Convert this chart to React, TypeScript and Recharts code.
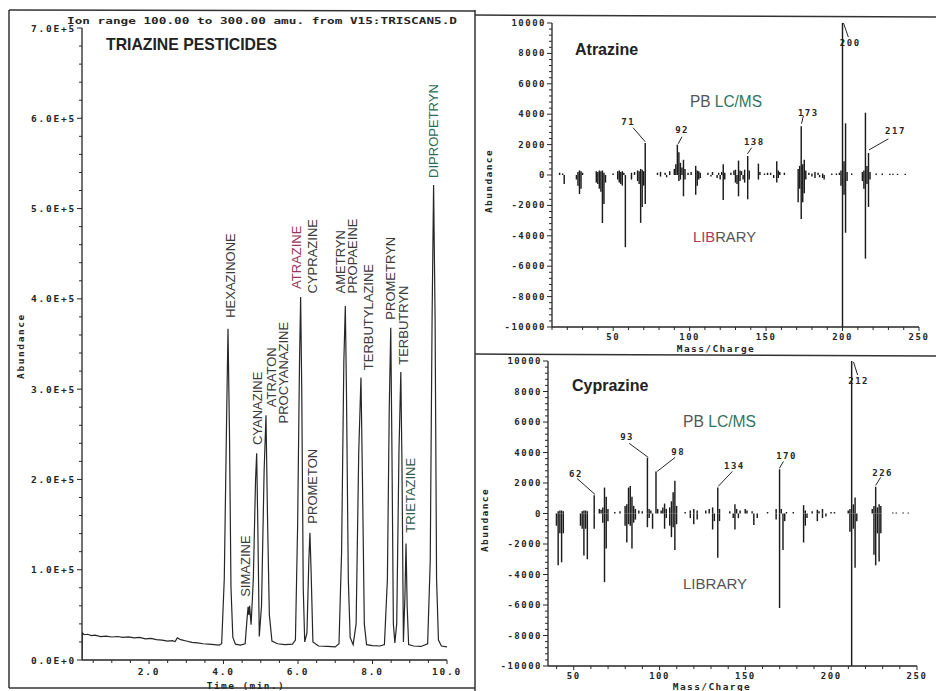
import React from "react";
import {
  LineChart,
  Line,
  ComposedChart,
  Bar,
  XAxis,
  YAxis,
  ReferenceDot,
  ReferenceLine,
} from "recharts";

const INK = "#262626";
const MONO = '"DejaVu Sans Mono", "Liberation Mono", monospace';
const SANS = '"Liberation Sans", Arial, Helvetica, sans-serif';

// ---- total ion chromatogram: time (min) / abundance ----
const TIC_TIME = [
  0.2, 0.21, 0.26, 0.35, 0.45, 0.55, 0.7, 0.85, 1.0, 1.15, 1.3, 1.45, 1.6, 1.75, 1.9, 2.05, 2.2, 2.35,
  2.5, 2.62, 2.7, 2.76, 2.85, 3.0, 3.15, 3.3, 3.45, 3.6, 3.75, 3.88, 3.95, 4.02, 4.08, 4.12, 4.16, 4.2,
  4.25, 4.32, 4.45, 4.58, 4.63, 4.66, 4.68, 4.7, 4.74, 4.8, 4.86, 4.89, 4.92, 4.96, 5.02, 5.09, 5.14,
  5.18, 5.23, 5.3, 5.45, 5.65, 5.85, 5.93, 5.99, 6.04, 6.07, 6.1, 6.14, 6.18, 6.24, 6.29, 6.32, 6.35,
  6.4, 6.55, 6.8, 7.0, 7.1, 7.17, 7.23, 7.27, 7.3, 7.35, 7.4, 7.48, 7.56, 7.63, 7.69, 7.73, 7.78, 7.84,
  8.0, 8.2, 8.32, 8.4, 8.45, 8.49, 8.52, 8.56, 8.6, 8.65, 8.71, 8.76, 8.79, 8.83, 8.87, 8.9, 8.93, 8.97,
  9.1, 9.3, 9.48, 9.55, 9.6, 9.64, 9.68, 9.72, 9.77, 9.85, 10.0,
];
const TIC_ABUND = [
  0, 30000, 28000, 28500, 27000, 27500, 26000, 26500, 25500, 26000, 25000, 25500, 24500, 25000, 23500,
  24000, 22500, 22000, 21000, 21500, 20500, 24500, 22500, 21000, 19500, 19000, 18000, 17500, 17000,
  16500, 18000, 90000, 260000, 367000, 250000, 80000, 25000, 17500, 16500, 18000, 45000, 59000, 50000,
  60000, 39000, 90000, 200000, 229000, 150000, 26000, 60000, 210000, 271000, 160000, 50000, 21000,
  18000, 17000, 17500, 22000, 150000, 330000, 402000, 300000, 80000, 20000, 30000, 110000, 141000,
  100000, 20000, 15500, 15000, 14500, 18000, 120000, 330000, 392000, 300000, 90000, 25000, 17000, 40000,
  230000, 313000, 200000, 40000, 17000, 16000, 15500, 17000, 90000, 280000, 368000, 240000, 40000,
  19000, 40000, 230000, 319000, 220000, 20000, 70000, 129000, 60000, 17000, 15500, 15000, 18000, 110000,
  380000, 526000, 380000, 90000, 22000, 15500, 14500,
];

const PEAK_NAMES = [
  "HEXAZINONE", "SIMAZINE", "CYANAZINE", "ATRATON", "PROCYANAZINE", "ATRAZINE", "CYPRAZINE",
  "PROMETON", "AMETRYN", "PROPAEINE", "TERBUTYLAZINE", "PROMETRYN", "TERBUTRYN", "TRIETAZINE",
  "DIPROPETRYN",
];
// where each rotated name starts (bottom end of the text)
const PEAK_LABEL_TIME = [4.2, 4.58, 4.9, 5.28, 5.62, 5.97, 6.4, 6.38, 7.13, 7.45, 7.88, 8.47, 8.82, 9.03, 9.65];
const PEAK_LABEL_ABUND = [
  379000, 70000, 238000, 280000, 262000, 411000, 406000, 151000, 406000, 406000, 321000, 377000,
  327000, 141000, 534000,
];
const LABEL_TINT: Record<string, string> = {
  ATRAZINE: "#9a3458",
  DIPROPETRYN: "#2f6a55",
  TRIETAZINE: "#2f5a4c",
};

const TIME_MAJOR = [2, 4, 6, 8, 10];
const ABUND_MAJOR = [0, 100000, 200000, 300000, 400000, 500000, 600000, 700000];

// ---- mass spectra: m/z and abundance (PB LC/MS up, library down) ----
const ATR_PB_MZ = [
  15, 17, 27, 28, 29, 30, 39, 40, 41, 42, 43, 44, 50, 53, 54, 55, 56, 57, 62, 64, 66, 67, 68, 69, 70, 71,
  79, 81, 84, 87, 90, 91, 92, 93, 94, 95, 96, 97, 99, 101, 104, 105, 106, 107, 112, 115, 119, 121, 122,
  123, 127, 129, 130, 132, 133, 134, 136, 138, 139, 145, 146, 149, 151, 153, 157, 158, 159, 162, 171,
  172, 173, 174, 175, 176, 178, 180, 182, 184, 187, 193, 196, 198, 199, 200, 201, 202, 203, 206, 213,
  214, 215, 216, 217, 218, 222, 226, 231, 233, 236, 241,
];
const ATR_PB = [
  150, 100, 200, 300, 250, 150, 250, 200, 300, 250, 300, 150, 100, 250, 300, 200, 250, 150, 150, 200,
  300, 250, 400, 350, 250, 2100, 150, 200, 150, 250, 400, 700, 2000, 1500, 800, 500, 1000, 400, 150,
  200, 600, 300, 250, 150, 150, 200, 150, 200, 700, 150, 150, 300, 350, 950, 300, 250, 350, 1250, 300,
  750, 200, 100, 150, 150, 900, 300, 200, 150, 400, 600, 3200, 700, 1000, 300, 150, 100, 200, 150, 100,
  100, 100, 150, 300, 10000, 900, 3400, 200, 100, 200, 300, 4100, 600, 1450, 200, 100, 100, 80, 80, 80,
  80,
];
const ATR_LIB_MZ = [
  18, 26, 27, 28, 29, 39, 40, 41, 42, 43, 44, 45, 53, 54, 55, 56, 58, 62, 66, 67, 68, 69, 70, 71, 81,
  85, 93, 94, 96, 97, 104, 105, 106, 107, 114, 118, 120, 122, 123, 130, 131, 132, 133, 135, 136, 138,
  139, 145, 155, 157, 158, 171, 172, 173, 174, 175, 176, 180, 182, 185, 187, 188, 199, 200, 201, 202,
  203, 213, 214, 215, 216, 217, 218,
];
const ATR_LIB = [
  -600, -300, -700, -1250, -900, -500, -600, -900, -1100, -3150, -1900, -500, -300, -500, -600, -700,
  -4750, -300, -400, -600, -3150, -2100, -700, -1900, -100, -150, -400, -300, -1400, -300, -1300, -700,
  -300, -200, -100, -200, -300, -1650, -300, -500, -600, -1400, -400, -300, -500, -1600, -300, -300,
  -200, -500, -200, -1800, -900, -2900, -1800, -1200, -300, -100, -200, -150, -200, -300, -700, -10000,
  -1300, -3800, -400, -400, -900, -5500, -600, -2100, -300,
];
const ATR_NOTE_TEXT = ["71", "92", "138", "173", "200", "217"];
const ATR_NOTE_AT = [[59.8, 3510], [95.1, 2980], [142.3, 2185], [177.6, 4100], [205, 8670], [234.6, 2910]];
const ATR_NOTE_LEADER = [
  [[63, 3110], [71, 2185]],
  [[95, 2520], [92.5, 2050]],
  [[140.5, 1790], [137.8, 1390]],
  [[174.4, 3900], [173.2, 3375]],
  [[200.6, 10000], [203.8, 9070]],
  [[230, 2380], [217.3, 1650]],
];

const CYP_PB_MZ = [
  41, 42, 43, 44, 55, 56, 57, 58, 62, 65, 66, 67, 68, 69, 70, 74, 77, 80, 81, 82, 83, 84, 85, 86, 88,
  90, 93, 94, 95, 98, 99, 101, 102, 103, 104, 106, 107, 108, 109, 110, 115, 118, 120, 122, 127, 129,
  131, 134, 135, 141, 144, 145, 147, 150, 151, 154, 163, 168, 170, 171, 174, 178, 184, 185, 189, 192,
  193, 195, 200, 202, 210, 211, 212, 213, 214, 224, 225, 226, 227, 228, 229, 236, 238, 242, 245,
];
const CYP_PB = [
  150, 200, 200, 150, 150, 200, 200, 150, 1200, 300, 250, 400, 1700, 1100, 300, 100, 150, 500, 600,
  1700, 1800, 1100, 500, 300, 200, 150, 3650, 300, 200, 2750, 300, 200, 400, 650, 300, 400, 800, 1400,
  2150, 500, 100, 200, 300, 200, 200, 300, 400, 1700, 300, 150, 600, 300, 200, 300, 200, 150, 100, 300,
  2900, 300, 100, 100, 550, 200, 150, 250, 150, 300, 100, 100, 200, 300, 10000, 600, 1050, 300, 500,
  1750, 400, 600, 500, 60, 60, 60, 60,
];
const CYP_LIB_MZ = [
  40, 41, 42, 43, 44, 54, 55, 56, 57, 58, 62, 67, 68, 69, 70, 80, 81, 82, 83, 84, 85, 86, 93, 94, 96,
  103, 104, 106, 107, 108, 109, 110, 118, 120, 122, 131, 132, 134, 135, 143, 144, 146, 155, 157, 168,
  170, 172, 173, 184, 185, 186, 192, 195, 197, 211, 212, 213, 214, 215, 225, 226, 227, 228, 229,
];
const CYP_LIB = [
  -800, -3400, -1300, -3200, -1300, -800, -1000, -2750, -1000, -3000, -1000, -600, -4500, -2300, -500,
  -800, -1900, -700, -800, -2300, -600, -400, -900, -300, -1000, -1000, -300, -800, -1550, -900, -2400,
  -700, -300, -700, -400, -1050, -500, -2900, -500, -300, -1050, -300, -750, -300, -400, -6200, -2400,
  -500, -1900, -800, -300, -500, -300, -200, -1200, -10000, -1000, -3550, -500, -2700, -3400, -1300,
  -3150, -1300,
];
const CYP_NOTE_TEXT = ["62", "93", "98", "134", "170", "212", "226"];
const CYP_NOTE_AT = [[51.3, 2570], [81.1, 5000], [110.9, 4010], [143.6, 3090], [174, 3750], [216, 8690], [230, 2630]];
const CYP_NOTE_LEADER = [
  [[51.9, 2300], [62.4, 1250]],
  [[82.3, 4600], [93.4, 3680]],
  [[109.1, 3680], [98.6, 2760]],
  [[142.4, 2760], [134.2, 1780]],
  [[172.2, 3420], [169.8, 2960]],
  [[213, 9940], [215.4, 9080]],
  [[228.8, 2370], [225.9, 1840]],
];

const MZ_MAJOR = [50, 100, 150, 200, 250];
const SPEC_Y_MAJOR = [-10000, -8000, -6000, -4000, -2000, 0, 2000, 4000, 6000, 8000, 10000];

// ---- helpers ----
function stepTicks(from: number, to: number, step: number): number[] {
  const out: number[] = [];
  for (let v = from; v <= to + 1e-9; v += step) out.push(+v.toFixed(4));
  return out;
}

function isIn(list: number[]) {
  return (v: number) => list.some((m) => Math.abs(m - v) < 1e-6);
}

function spectrumRows(pbMz: number[], pb: number[], libMz: number[], lib: number[]) {
  const rows = new Map<number, { mz: number; pb: number; lib: number }>();
  pbMz.forEach((m, i) => {
    const r = rows.get(m) || { mz: m, pb: 0, lib: 0 };
    r.pb = pb[i];
    rows.set(m, r);
  });
  libMz.forEach((m, i) => {
    const r = rows.get(m) || { mz: m, pb: 0, lib: 0 };
    r.lib = lib[i];
    rows.set(m, r);
  });
  return [...rows.values()].sort((a, b) => a.mz - b.mz);
}

type TickFont = { size: number; spacing: number };

function leftTick(major: (v: number) => boolean, fmt: (v: number) => string, font: TickFont) {
  return (p: any) => {
    const v = p.payload.value;
    const big = major(v);
    return (
      <g>
        <line x1={p.x - (big ? 5 : 3)} x2={p.x} y1={p.y} y2={p.y} stroke={INK} strokeWidth={1} />
        {big && (
          <text
            x={p.x - 6}
            y={p.y}
            textAnchor="end"
            dominantBaseline="central"
            fontFamily={MONO}
            fontWeight="bold"
            fontSize={font.size}
            letterSpacing={font.spacing}
            fill={INK}
          >
            {fmt(v)}
          </text>
        )}
      </g>
    );
  };
}

function bottomTick(major: (v: number) => boolean, fmt: (v: number) => string, gap: number, font: TickFont) {
  return (p: any) => {
    const v = p.payload.value;
    const big = major(v);
    return (
      <g>
        <line x1={p.x} x2={p.x} y1={p.y} y2={p.y + (big ? 4 : 3)} stroke={INK} strokeWidth={1} />
        {big && (
          <text
            x={p.x}
            y={p.y + gap}
            textAnchor="middle"
            dominantBaseline="central"
            fontFamily={MONO}
            fontWeight="bold"
            fontSize={font.size}
            letterSpacing={font.spacing}
            fill={INK}
          >
            {fmt(v)}
          </text>
        )}
      </g>
    );
  };
}

const TIC_ROWS = TIC_TIME.map((t, i) => ({ t, a: TIC_ABUND[i] }));
const TIME_TICKS = stepTicks(0.5, 10, 0.5);
const ABUND_TICKS = stepTicks(0, 700000, 20000);
const SPEC_Y_TICKS = stepTicks(-10000, 10000, 400);

function Chromatogram() {
  const font = { size: 9.5, spacing: 1.8 };
  return (
    <LineChart width={475} height={691} data={TIC_ROWS} margin={{ top: 28, right: 28, bottom: 10, left: 0 }}>
      <XAxis
        dataKey="t"
        type="number"
        domain={[0.2, 10]}
        ticks={TIME_TICKS}
        interval={0}
        allowDataOverflow
        height={21}
        tickSize={0}
        tickMargin={0}
        axisLine={{ stroke: INK, strokeWidth: 1.3 }}
        tick={bottomTick(isIn(TIME_MAJOR), (v) => v.toFixed(1), 11, font)}
      />
      <YAxis
        type="number"
        domain={[0, 700000]}
        ticks={ABUND_TICKS}
        interval={0}
        allowDataOverflow
        width={82}
        tickSize={0}
        tickMargin={0}
        axisLine={{ stroke: INK, strokeWidth: 1.3 }}
        tick={leftTick(isIn(ABUND_MAJOR), (v) => (v === 0 ? "0.0E+0" : `${(v / 1e5).toFixed(1)}E+5`), font)}
      />
      <Line type="linear" dataKey="a" stroke={INK} strokeWidth={1.2} dot={false} isAnimationActive={false} />
      {PEAK_NAMES.map((name, i) => (
        <ReferenceDot
          key={name}
          x={PEAK_LABEL_TIME[i]}
          y={PEAK_LABEL_ABUND[i]}
          r={0}
          ifOverflow="visible"
          shape={(p: any) => (
            <text
              x={p.cx}
              y={p.cy}
              transform={`rotate(-90 ${p.cx} ${p.cy})`}
              dominantBaseline="central"
              fontFamily={SANS}
              fontSize={13}
              fill={LABEL_TINT[name] || "#3a3a3a"}
            >
              {name}
            </text>
          )}
        />
      ))}
    </LineChart>
  );
}

type SpectrumProps = {
  rows: { mz: number; pb: number; lib: number }[];
  xDomain: [number, number];
  xTicks: number[];
  noteText: string[];
  noteAt: number[][];
  noteLeader: number[][][];
  width: number;
  height: number;
  margin: { top: number; right: number; bottom: number; left: number };
  yWidth: number;
};

function Spectrum({ rows, xDomain, xTicks, noteText, noteAt, noteLeader, width, height, margin, yWidth }: SpectrumProps) {
  const font = { size: 9, spacing: 1.5 };
  return (
    <ComposedChart width={width} height={height} data={rows} margin={margin} stackOffset="sign">
      <XAxis
        dataKey="mz"
        type="number"
        domain={xDomain}
        ticks={xTicks}
        interval={0}
        allowDataOverflow
        height={18}
        tickSize={0}
        tickMargin={0}
        axisLine={{ stroke: INK, strokeWidth: 1.3 }}
        tick={bottomTick(isIn(MZ_MAJOR), (v) => String(v), 10, font)}
      />
      <YAxis
        type="number"
        domain={[-10000, 10000]}
        ticks={SPEC_Y_TICKS}
        interval={0}
        allowDataOverflow
        width={yWidth}
        tickSize={0}
        tickMargin={0}
        axisLine={{ stroke: INK, strokeWidth: 1.3 }}
        tick={leftTick(isIn(SPEC_Y_MAJOR), (v) => String(v), font)}
      />
      <Bar dataKey="pb" stackId="s" fill="#1c1c1c" barSize={1.45} isAnimationActive={false} />
      <Bar dataKey="lib" stackId="s" fill="#1c1c1c" barSize={1.45} isAnimationActive={false} />
      {noteLeader.map(([a, b], i) => (
        <ReferenceLine
          key={`lead-${i}`}
          segment={[{ x: a[0], y: a[1] }, { x: b[0], y: b[1] }]}
          stroke={INK}
          strokeWidth={1}
          ifOverflow="visible"
        />
      ))}
      {noteText.map((t, i) => (
        <ReferenceDot
          key={`note-${t}`}
          x={noteAt[i][0]}
          y={noteAt[i][1]}
          r={0}
          ifOverflow="visible"
          shape={(p: any) => (
            <text
              x={p.cx}
              y={p.cy}
              textAnchor="middle"
              dominantBaseline="central"
              fontFamily={MONO}
              fontWeight="bold"
              fontSize={9}
              letterSpacing={1.5}
              fill={INK}
            >
              {t}
            </text>
          )}
        />
      ))}
    </ComposedChart>
  );
}

const ATR_ROWS = spectrumRows(ATR_PB_MZ, ATR_PB, ATR_LIB_MZ, ATR_LIB);
const CYP_ROWS = spectrumRows(CYP_PB_MZ, CYP_PB, CYP_LIB_MZ, CYP_LIB);

const monoText = { fontFamily: MONO, fontWeight: "bold" as const, fontSize: 9.5, fill: INK };

export default function App() {
  return (
    <div style={{ position: "absolute", left: 0, top: 0, width: 936, height: 691, background: "#fff", overflow: "hidden" }}>
      <div style={{ position: "absolute", left: 0, top: 0 }}>
        <Chromatogram />
      </div>
      <div style={{ position: "absolute", left: 475, top: 15 }}>
        <Spectrum
          rows={ATR_ROWS}
          xDomain={[10, 250]}
          xTicks={stepTicks(10, 250, 10)}
          noteText={ATR_NOTE_TEXT}
          noteAt={ATR_NOTE_AT}
          noteLeader={ATR_NOTE_LEADER}
          width={461}
          height={337}
          margin={{ top: 8, right: 17, bottom: 7, left: 0 }}
          yWidth={77}
        />
      </div>
      <div style={{ position: "absolute", left: 475, top: 352 }}>
        <Spectrum
          rows={CYP_ROWS}
          xDomain={[35, 250]}
          xTicks={stepTicks(40, 250, 10)}
          noteText={CYP_NOTE_TEXT}
          noteAt={CYP_NOTE_AT}
          noteLeader={CYP_NOTE_LEADER}
          width={461}
          height={339}
          margin={{ top: 9, right: 19, bottom: 7, left: 0 }}
          yWidth={73}
        />
      </div>
      <svg
        width={936}
        height={691}
        style={{ position: "absolute", left: 0, top: 0, pointerEvents: "none" }}
      >
        {/* panel frames */}
        <g stroke="#333" strokeWidth={1.5} fill="none">
          <line x1={9} y1={10} x2={475} y2={11} />
          <line x1={9} y1={10} x2={9} y2={688} />
          <line x1={9} y1={688} x2={475} y2={688} />
          <line x1={475} y1={10} x2={475} y2={691} />
          <line x1={475} y1={15} x2={936} y2={17} />
          <line x1={475} y1={354} x2={936} y2={356} />
        </g>

        {/* chromatogram texts */}
        <text x={67} y={24} {...monoText} textLength={390} lengthAdjust="spacingAndGlyphs">
          Ion range 100.00 to 300.00 amu. from V15:TRISCAN5.D
        </text>
        <text x={106} y={50} fontFamily={SANS} fontWeight="bold" fontSize={17} fill="#222" textLength={171} lengthAdjust="spacingAndGlyphs">
          TRIAZINE PESTICIDES
        </text>
        <text x={20} y={346} {...monoText} textAnchor="middle" dominantBaseline="central" letterSpacing={1.6} transform="rotate(-90 20 346)">
          Abundance
        </text>
        <text x={246} y={685} {...monoText} textAnchor="middle" dominantBaseline="central" letterSpacing={1.4}>
          Time (min.)
        </text>

        {/* atrazine spectrum texts */}
        <text x={575} y={55} fontFamily={SANS} fontWeight="bold" fontSize={16} fill="#222">
          Atrazine
        </text>
        <text x={690} y={107} fontFamily={SANS} fontSize={16} textLength={72} lengthAdjust="spacingAndGlyphs">
          <tspan fill="#555">PB </tspan>
          <tspan fill="#2f7560">LC/MS</tspan>
        </text>
        <text x={693} y={242} fontFamily={SANS} fontSize={15} textLength={63} lengthAdjust="spacingAndGlyphs">
          <tspan fill="#b03a5a">LIB</tspan>
          <tspan fill="#555">RARY</tspan>
        </text>
        <text x={488} y={181} {...monoText} textAnchor="middle" dominantBaseline="central" letterSpacing={1.4} transform="rotate(-90 488 181)">
          Abundance
        </text>
        <text x={716} y={352} {...monoText} textAnchor="middle" letterSpacing={1.4}>
          Mass/Charge
        </text>

        {/* cyprazine spectrum texts */}
        <text x={572} y={391} fontFamily={SANS} fontWeight="bold" fontSize={16} fill="#222">
          Cyprazine
        </text>
        <text x={683} y={427} fontFamily={SANS} fontSize={16} textLength={73} lengthAdjust="spacingAndGlyphs">
          <tspan fill="#555">PB </tspan>
          <tspan fill="#2f7560">LC/MS</tspan>
        </text>
        <text x={683} y={589} fontFamily={SANS} fontSize={15} fill="#555" textLength={64} lengthAdjust="spacingAndGlyphs">
          LIBRARY
        </text>
        <text x={484} y={520} {...monoText} textAnchor="middle" dominantBaseline="central" letterSpacing={1.4} transform="rotate(-90 484 520)">
          Abundance
        </text>
        <text x={712} y={690} {...monoText} textAnchor="middle" letterSpacing={1.4}>
          Mass/Charge
        </text>
      </svg>
    </div>
  );
}
